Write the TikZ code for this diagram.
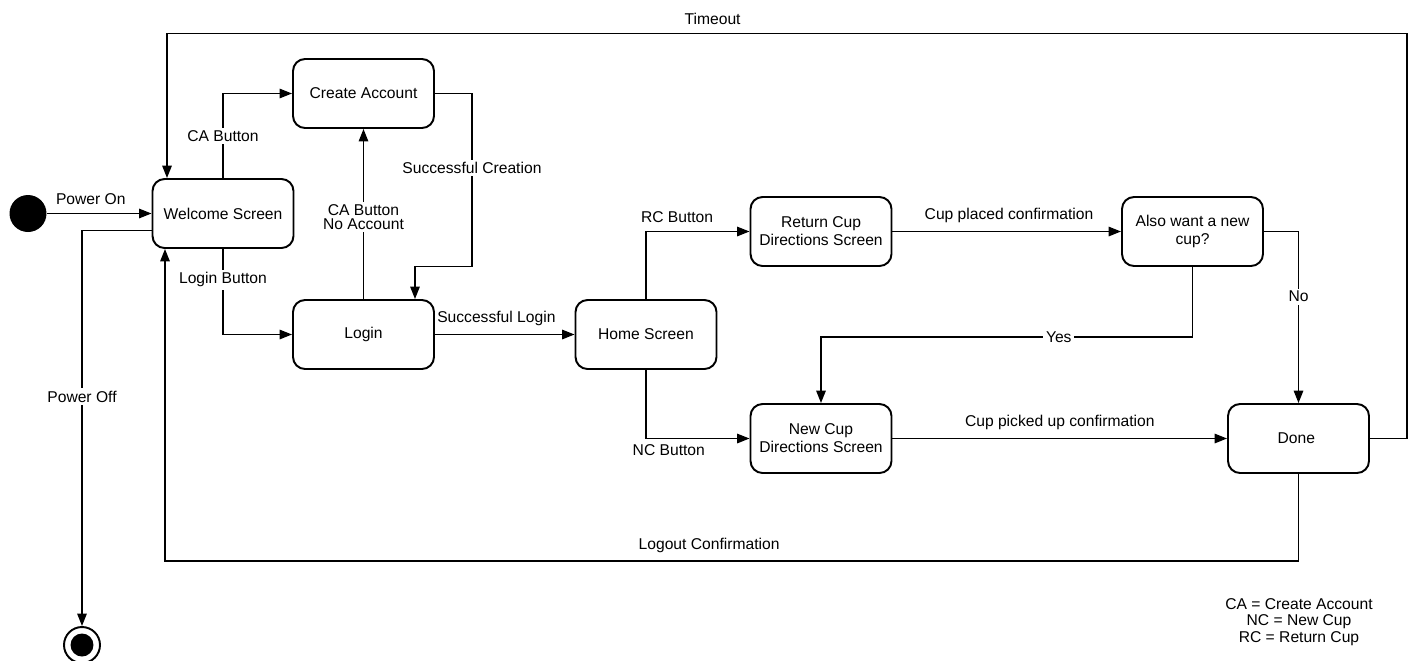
\documentclass[tikz,border=0pt]{standalone}
\usepackage{fontspec}
\setmainfont{Liberation Sans}
\usetikzlibrary{arrows.meta}

\newcommand{\statefont}{\fontsize{8.9}{10.2}\selectfont}

\begin{document}
\begin{tikzpicture}[
        x=0.02cm, y=-0.02cm,
        state/.style={rectangle, rounded corners=0.24cm, draw, line width=1.1pt, minimum width=2.82cm, minimum height=1.38cm, align=center, font=\statefont},
        arr/.style={line width=0.9pt, -{Triangle[length=0.25cm, width=0.19cm]}},
        lbl/.style={fill=white, inner sep=1.5pt, font=\statefont},
        lblup/.style={above=3.5pt, inner sep=1pt, font=\statefont},
        ]
        \useasboundingbox (0,0) rectangle (1413,660);

        % Initial and final states
        \node[circle, fill=black, minimum size=0.74cm, inner sep=0pt] (initial) at (28,213.5) {};
        \node[circle, draw, line width=1.1pt, minimum size=0.72cm, inner sep=0pt,
            path picture={\fill (path picture bounding box.center) circle (0.23cm);}] (final) at (82,645) {};

        % Screens
        \foreach \x/\y/\name/\txt in {
            223/213.5/welcome/{Welcome Screen},
            363.5/93.5/create/{Create Account},
            363.5/334.5/login/{Login},
            646/334.5/home/{Home Screen},
            821/231.5/rcup/{Return Cup\\Directions Screen},
            1192.5/231.5/also/{Also want a new\\cup?},
            821/438.5/ncup/{New Cup\\Directions Screen},
            1298.5/438.5/done/{Done}
        } {
            \node[state] (\name) at (\x,\y) {\txt};
        }

        % Transitions
        \draw[arr] (initial) -- node[lblup, pos=0.42] {Power On} (welcome);
        \draw[arr] (welcome.north) |- node[lbl, pos=0.25] {CA Button} (create.west);
        \draw[arr] (welcome.south) |- node[lbl, pos=0.18] {Login Button} (login.west);
        \draw[arr] (login.north) -- node[lbl, align=center, pos=0.48] {CA Button\\[-2.4pt]No Account} (create.south);
        \draw[arr] (create.east) -- ++(37,0) -- node[lbl, pos=0.43] {Successful Creation} ++(0,173) -| ([xshift=1.03cm]login.north);
        \draw[arr] (login.east) -- node[lblup, pos=0.44] {Successful Login} (home.west);
        \draw[arr] (home.north) |- node[lblup, pos=0.65] {RC Button} (rcup.west);
        \draw[arr] (home.south) |- node[below=2pt, inner sep=1pt, font=\statefont, pos=0.61] {NC Button} (ncup.west);
        \draw[arr] (rcup) -- node[lblup, pos=0.51] {Cup placed confirmation} (also);
        \draw[arr] (also.south) -- ++(0,70) -| node[lbl, pos=0.18] {Yes} (ncup.north);
        \draw[arr] (also.east) -| node[lbl, pos=0.69] {No} (done.north);
        \draw[arr] (ncup) -- node[lblup, pos=0.5] {Cup picked up confirmation} (done);
        \draw[arr] (done.east) -- ++(37,0) -- ++(0,-405) -| node[lblup, pos=0.28] {Timeout} ([xshift=-1.12cm]welcome.north);
        \draw[arr] (done.south) -- ++(0,87) -| node[lblup, pos=0.26] {Logout Confirmation} ([xshift=-1.16cm]welcome.south);
        \draw[arr] ([yshift=-0.34cm]welcome.west) -| node[lbl, pos=0.71] {Power Off} (final);

        % Legend
        \node[align=center, inner sep=0pt, font=\fontsize{8.9}{9.2}\selectfont] (legend) at (1299,622) {CA = Create Account\\NC = New Cup\\RC = Return Cup};

    \end{tikzpicture}
\end{document}
